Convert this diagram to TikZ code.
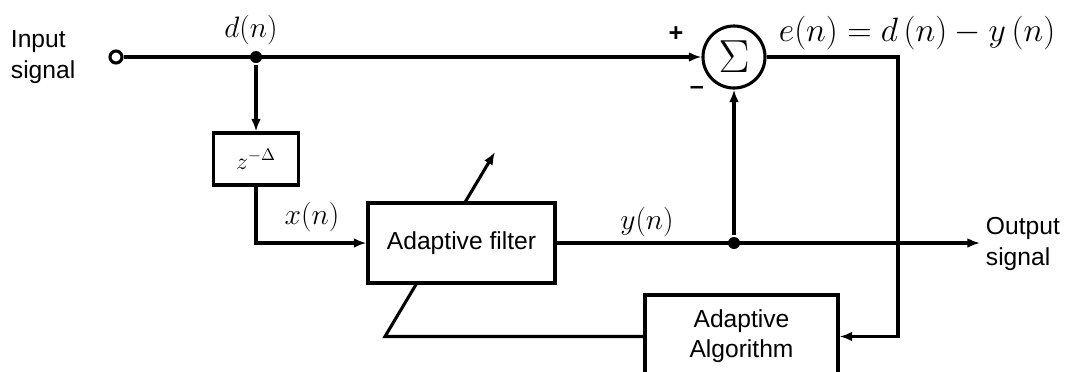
\RequirePackage{fix-cm}
\documentclass[tikz,border=0pt]{standalone}
\usepackage[no-math]{fontspec}
\setmainfont{Liberation Sans}
\usetikzlibrary{arrows.meta,positioning,calc}

\begin{document}
\begin{tikzpicture}[
    x=0.025cm, y=-0.025cm,
    line width=2.2pt,
    lbl/.style={font=\fontsize{17.5}{21.5}\selectfont, align=center, inner sep=1pt},
    mlbl/.style={font=\fontsize{21}{21}\selectfont, inner sep=1pt},
    block/.style={rectangle, draw, fill=white, align=center, inner sep=0pt, font=\fontsize{17.5}{21.5}\selectfont},
    dot/.style={circle, fill, inner sep=0pt, minimum size=0.3cm},
    arrow/.style={-{Latex[length=9pt,width=7pt]}}
]
\useasboundingbox (0,0) rectangle (1071,371);
\clip (0,0) rectangle (1071,371);

% Input terminal and pick-off point
\node[circle, draw, fill=white, inner sep=0pt, minimum size=0.3cm] (in) at (116,57) {};
\node[lbl, anchor=west, align=left] (inlbl) at (8,57) {Input\\signal};
\node[dot] (jd) at (256,57) {};
\node[mlbl] (dlbl) at (251,30) {$d(n)$};

% Summing junction
\node[circle, draw, minimum size=1.55cm, inner sep=0pt, font=\fontsize{33}{33}\selectfont] (sum) at (734,57) {$\Sigma$};
\node[lbl, font=\bfseries\fontsize{18}{18}\selectfont] (plus) at (676,34) {+};
\node[lbl, font=\bfseries\fontsize{18}{18}\selectfont] (minus) at (697,90) {--};
\node[lbl, anchor=west, font=\fontsize{24}{24}\selectfont] (err) at (776,33) {$e(n) = d\,(n) - y\,(n)$};

% Delay
\node[block, minimum width=2.125cm, minimum height=1.3cm, font=\fontsize{17}{17}\selectfont] (delay) at (256,159) {$z^{-\Delta}$};
\node[mlbl] (xlbl) at (312,217) {$x(n)$};

% Adaptive algorithm
\node[block, minimum width=4.825cm, minimum height=2.075cm] (algo) at (741.5,336.5) {Adaptive\\Algorithm};

% Corners
\coordinate (ecorner) at (898,57);
\coordinate (fbcorner) at (385,336.5);
\coordinate (tune) at (495,152);
\coordinate (out) at (980,243);

% Feedback to the filter (drawn before the filter box)
\draw[arrow] (algo.west) -- (fbcorner) -- (tune);

% Adaptive filter
\node[block, minimum width=4.675cm, minimum height=2cm] (filt) at (461.5,243) {Adaptive filter};
\node[dot] (jy) at (734,243) {};
\node[mlbl] (ylbl) at (647,222) {$y(n)$};
\node[lbl, anchor=west, align=left] (outlbl) at (983,244) {Output\\signal};

% Arrows
\draw[arrow] (in.east) -- (sum.west);
\draw[arrow] (jd) -- (delay.north);
\draw[arrow] (delay.south) |- (filt.west);
\draw[arrow] (filt.east) -- (out);
\draw[arrow] (jy) -- (sum.south);
\draw[arrow] (sum.east) -- (ecorner) |- (algo.east);

\end{tikzpicture}
\end{document}
